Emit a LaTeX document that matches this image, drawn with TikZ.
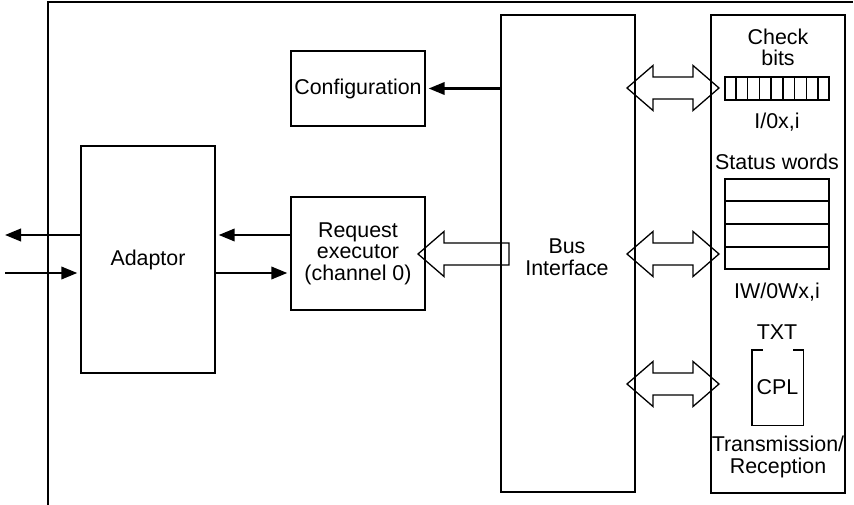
\documentclass[tikz,border=0pt]{standalone}
\usepackage{fontspec}
\setmainfont{Liberation Sans}
\usetikzlibrary{arrows.meta,calc}

\tikzset{
  box/.style={draw, line width=1.4pt, inner sep=0pt, align=center},
  txt/.style={inner sep=0pt, align=center},
  flow/.style={line width=2.2pt, -{Triangle[length=16pt,width=12.5pt]}},
  hollow/.style={draw, line width=1.3pt, line join=miter},
  pics/dblarrow/.style={code={
    \draw[hollow] (0,0) -- ++(26,-22.5) -- ++(0,11.5) -- ++(40,0) -- ++(0,-11.5)
      -- ++(26,22.5) -- ++(-26,22.5) -- ++(0,-11.5) -- ++(-40,0) -- ++(0,11.5) -- cycle;
  }},
}

\begin{document}
\begin{tikzpicture}[x=1pt, y=-1pt, font=\fontsize{21.4}{21.5}\selectfont]
\useasboundingbox (0,0) rectangle (854,505);

% open outer frame
\coordinate (frameBL) at (48,505);
\coordinate (frameTL) at (48,2);
\coordinate (frameTR) at (853,2);
\draw[line width=1.5pt] (frameBL) -- (frameTL) -- (frameTR);

% main blocks
\node[box, minimum width=134pt, minimum height=75pt]  (config)  at (358,88.5)  {Configuration};
\node[box, minimum width=134pt, minimum height=113pt] (reqexec) at (358,253.5) {Request\\executor\\(channel 0)};
\node[box, minimum width=134pt, minimum height=227pt] (adaptor) at (148,259.5) {Adaptor};
\node[box, minimum width=134pt, minimum height=477pt] (bus)     at (568,253.5) {};
\node[txt] (buslabel) at (567,257) {Bus\\Interface};
\node[box, minimum width=134pt, minimum height=478pt] (regs)    at (778,254)   {};

% register block contents
\node[txt] (checklabel) at (778,47.5) {Check\\bits};
\node[box, minimum width=104pt, minimum height=23pt] (checkreg) at (777,88.5) {};
\foreach \i in {1,...,8}
  \draw[line width=1.4pt] ($(checkreg.north west)!\i/9!(checkreg.north east)$)
    -- ($(checkreg.south west)!\i/9!(checkreg.south east)$);
\node[txt] (iolabel) at (777,122) {I/0x,i};

\node[txt] (statuslabel) at (777,162) {Status words};
\node[box, minimum width=104pt, minimum height=90pt] (statustab) at (777,224) {};
\foreach \i in {1,2,3}
  \draw[line width=1.4pt] ($(statustab.north west)!\i/4!(statustab.south west)$)
    -- ($(statustab.north east)!\i/4!(statustab.south east)$);
\node[txt] (iwlabel) at (777,292) {IW/0Wx,i};

\node[txt] (txtlabel) at (777,332) {TXT};
\node[txt, minimum width=51pt, minimum height=75pt] (cpl) at (777.5,387.5) {CPL};
\draw[line width=1.4pt] ($(cpl.north west)+(11,0)$) -- (cpl.north west) -- (cpl.south west)
  -- (cpl.south east) -- (cpl.north east) -- ++(-10,0);
\node[txt] (trlabel) at (778,457) {Transmission/\\Reception};

% bus to register block links
\coordinate (link1) at (627,88);
\coordinate (link2) at (627,254);
\coordinate (link3) at (627,384);
\pic at (link1) {dblarrow};
\pic at (link2) {dblarrow};
\pic at (link3) {dblarrow};

% wide arrow from the bus into the request executor
\coordinate (reqtip) at (418,254);
\draw[hollow] (reqtip) -- ++(26,-22.5) -- ++(0,11.5) -- ++(65,0) -- ++(0,22) -- ++(-65,0)
  -- ++(0,11.5) -- cycle;

% signal lines
\coordinate (outL) at (5,235);
\coordinate (inL) at (5,273);
\draw[flow, shorten >=3pt] (bus.west |- config.east) -- (config.east);
\draw[flow, shorten >=3pt] (reqexec.west |- outL) -- (adaptor.east |- outL);
\draw[flow, shorten >=3pt] (adaptor.east |- inL) -- (reqexec.west |- inL);
\draw[flow] (adaptor.west |- outL) -- (outL);
\draw[flow, shorten >=3pt] (inL) -- (adaptor.west |- inL);
\end{tikzpicture}
\end{document}
